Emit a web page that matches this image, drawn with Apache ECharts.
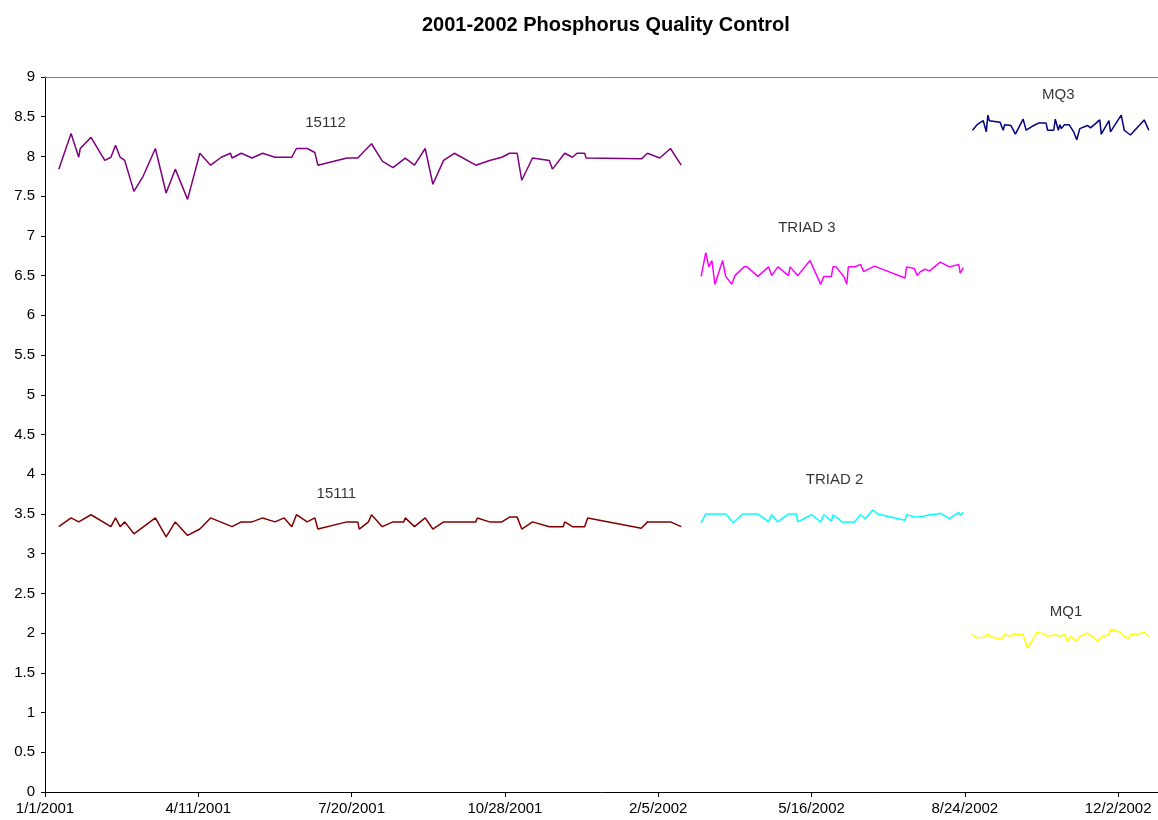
<!DOCTYPE html>
<html lang="en">
<head>
    <meta charset="UTF-8">
    <title>2001-2002 Phosphorus Quality Control</title>
    <script src="https://cdn.jsdelivr.net/npm/echarts@6/dist/echarts.min.js"></script>
</head>
<style>
    * {
        margin: 0;
        padding: 0;
    }

    #chart {
        width: 1158px;
        height: 820px;
        background: #ffffff;
    }
</style>
<body>
    <div id="chart"></div>
    <script>
        // x = days since 1/1/2001, y = concentration
        const startDate = Date.UTC(2001, 0, 1);
        const xTickStep = 100;
        const xMax = 726;

        const days15112 = [9, 17, 22, 23, 30, 39, 43, 46, 49, 52, 58, 64, 72, 79, 85, 93, 101, 108, 115, 121, 122, 128, 135, 142, 150, 161, 164, 171, 176, 178, 197, 204, 209, 213, 220, 227, 235, 241, 248, 253, 260, 267, 281, 290, 298, 303, 308, 311, 318, 329, 331, 339, 344, 347, 352, 353, 389, 393, 401, 408, 415];
        const vals15112 = [7.84, 8.29, 7.99, 8.10, 8.24, 7.95, 7.99, 8.14, 7.99, 7.95, 7.56, 7.75, 8.10, 7.54, 7.84, 7.46, 8.04, 7.89, 7.99, 8.04, 7.98, 8.04, 7.98, 8.04, 7.99, 7.99, 8.10, 8.10, 8.05, 7.89, 7.98, 7.98, 8.08, 8.16, 7.94, 7.86, 7.98, 7.89, 8.10, 7.65, 7.95, 8.04, 7.89, 7.95, 7.99, 8.04, 8.04, 7.70, 7.98, 7.95, 7.84, 8.04, 7.99, 8.04, 8.04, 7.98, 7.97, 8.04, 7.98, 8.10, 7.89];

        const days15111 = [9, 17, 22, 30, 43, 46, 49, 52, 58, 72, 79, 85, 93, 101, 108, 122, 128, 135, 142, 150, 156, 161, 164, 171, 176, 178, 197, 204, 205, 211, 213, 220, 227, 234, 235, 241, 248, 253, 260, 281, 282, 290, 298, 303, 308, 311, 318, 329, 338, 339, 344, 352, 354, 389, 393, 408, 415];
        const vals15111 = [3.34, 3.45, 3.40, 3.49, 3.34, 3.45, 3.34, 3.40, 3.25, 3.45, 3.21, 3.40, 3.23, 3.31, 3.45, 3.34, 3.40, 3.40, 3.45, 3.40, 3.45, 3.34, 3.49, 3.40, 3.45, 3.31, 3.40, 3.40, 3.31, 3.40, 3.49, 3.34, 3.40, 3.40, 3.45, 3.34, 3.45, 3.31, 3.40, 3.40, 3.45, 3.40, 3.40, 3.46, 3.46, 3.31, 3.40, 3.34, 3.34, 3.40, 3.34, 3.34, 3.45, 3.32, 3.40, 3.40, 3.34];

        const daysTriad3 = [428, 431, 433, 435, 437, 442, 444, 448, 450, 456, 458, 465, 472, 474, 478, 485, 486, 491, 499, 506, 508, 513, 514, 516, 521, 522, 523, 524, 528, 532, 534, 541, 561, 562, 567, 569, 571, 574, 577, 584, 590, 596, 597, 599];
        const valsTriad3 = [6.49, 6.79, 6.61, 6.69, 6.39, 6.69, 6.49, 6.39, 6.50, 6.61, 6.61, 6.49, 6.61, 6.50, 6.61, 6.50, 6.61, 6.50, 6.69, 6.39, 6.49, 6.49, 6.61, 6.61, 6.49, 6.49, 6.39, 6.61, 6.61, 6.64, 6.55, 6.62, 6.47, 6.61, 6.59, 6.50, 6.55, 6.58, 6.56, 6.67, 6.61, 6.64, 6.53, 6.60];

        const daysTriad2 = [428, 431, 444, 449, 455, 465, 472, 474, 478, 485, 490, 491, 500, 506, 508, 513, 514, 520, 528, 532, 535, 540, 543, 561, 562, 568, 573, 577, 582, 584, 590, 596, 597, 599];
        const valsTriad2 = [3.39, 3.50, 3.50, 3.39, 3.50, 3.50, 3.40, 3.49, 3.40, 3.50, 3.50, 3.40, 3.49, 3.40, 3.49, 3.41, 3.49, 3.40, 3.40, 3.49, 3.44, 3.55, 3.50, 3.42, 3.49, 3.46, 3.47, 3.49, 3.50, 3.51, 3.44, 3.52, 3.48, 3.52];

        const daysMq3 = [605, 608, 612, 613, 614, 615, 616, 617, 623, 625, 626, 630, 633, 638, 640, 645, 648, 653, 654, 658, 659, 661, 662, 663, 665, 668, 671, 673, 675, 680, 682, 688, 689, 694, 695, 702, 704, 708, 717, 720];
        const valsMq3 = [8.33, 8.40, 8.45, 8.47, 8.31, 8.52, 8.45, 8.43, 8.43, 8.33, 8.40, 8.39, 8.28, 8.47, 8.33, 8.39, 8.42, 8.42, 8.33, 8.33, 8.47, 8.33, 8.40, 8.35, 8.40, 8.40, 8.31, 8.21, 8.35, 8.39, 8.36, 8.46, 8.28, 8.45, 8.31, 8.52, 8.33, 8.27, 8.46, 8.33];

        const daysMq1 = [605, 608, 613, 615, 616, 617, 624, 626, 630, 632, 638, 639, 641, 647, 652, 654, 659, 662, 665, 667, 669, 673, 675, 680, 687, 689, 694, 695, 701, 704, 707, 708, 713, 717, 720];
        const valsMq1 = [1.98, 1.94, 1.95, 1.99, 1.96, 1.98, 1.92, 1.98, 1.96, 1.99, 1.98, 1.92, 1.81, 2.01, 1.99, 1.96, 1.98, 1.96, 1.98, 1.90, 1.96, 1.90, 1.96, 2.00, 1.90, 1.95, 1.98, 2.05, 2.01, 1.96, 1.93, 1.98, 1.99, 2.01, 1.96];

        // text notes placed in data space: [day, value]
        const noteNames = ['15112', '15111', 'TRIAD 3', 'TRIAD 2', 'MQ3', 'MQ1'];
        const noteDays = [183, 190, 497, 515, 661, 666];
        const noteVals = [8.42, 3.75, 7.10, 3.93, 8.77, 2.27];

        const zip = (xs, ys) => xs.map((x, i) => [x, ys[i]]);

        function dayLabel(v) {
            const d = new Date(startDate + v * 86400000);
            return (d.getUTCMonth() + 1) + '/' + d.getUTCDate() + '/' + d.getUTCFullYear();
        }

        function lineSeries(name, xs, ys, color) {
            return {
                name: name,
                type: 'line',
                data: zip(xs, ys),
                showSymbol: false,
                symbol: 'none',
                silent: true,
                lineStyle: { color: color, width: 1.5 },
                animation: false
            };
        }

        const myChart = echarts.init(document.getElementById('chart'));
        const font = 'Liberation Sans, Arial, sans-serif';

        const option = {
            backgroundColor: '#ffffff',
            animation: false,
            title: {
                text: '2001-2002 Phosphorus Quality Control',
                left: 417,
                top: 10,
                textStyle: {
                    fontFamily: font,
                    fontSize: 20,
                    fontWeight: 'bold',
                    color: '#000000'
                }
            },
            grid: {
                left: 45,
                right: 0,
                top: 77,
                bottom: 28
            },
            xAxis: [{
                type: 'value',
                min: 0,
                max: xMax,
                interval: xTickStep,
                splitLine: { show: false },
                axisLine: { lineStyle: { color: '#000000', width: 1 } },
                axisTick: { show: true, length: 5, lineStyle: { color: '#000000' } },
                axisLabel: {
                    color: '#000000',
                    fontFamily: font,
                    fontSize: 15,
                    margin: 9,
                    showMaxLabel: false,
                    formatter: dayLabel
                }
            }, {
                type: 'value',
                position: 'top',
                min: 0,
                max: xMax,
                axisLine: { show: true, lineStyle: { color: '#808080', width: 1 } },
                axisTick: { show: false },
                axisLabel: { show: false },
                splitLine: { show: false }
            }],
            yAxis: {
                type: 'value',
                min: 0,
                max: 9,
                interval: 0.5,
                splitLine: { show: false },
                axisLine: { show: true, lineStyle: { color: '#000000', width: 1 } },
                axisTick: { show: true, length: 4, lineStyle: { color: '#000000' } },
                axisLabel: {
                    color: '#000000',
                    fontFamily: font,
                    fontSize: 15,
                    margin: 10
                }
            },
            series: [
                lineSeries('15112', days15112, vals15112, '#800080'),
                lineSeries('15111', days15111, vals15111, '#800000'),
                lineSeries('TRIAD 3', daysTriad3, valsTriad3, '#FF00FF'),
                lineSeries('TRIAD 2', daysTriad2, valsTriad2, '#00FFFF'),
                lineSeries('MQ3', daysMq3, valsMq3, '#000080'),
                lineSeries('MQ1', daysMq1, valsMq1, '#FFFF00'),
                {
                    name: 'notes',
                    type: 'scatter',
                    symbolSize: 0,
                    silent: true,
                    data: noteNames.map((n, i) => ({ value: [noteDays[i], noteVals[i]], name: n })),
                    label: {
                        show: true,
                        position: 'inside',
                        formatter: '{b}',
                        color: '#000000',
                        fontFamily: font,
                        fontSize: 15
                    }
                }
            ]
        };
        myChart.setOption(option);
    </script>
</body>
</html>
